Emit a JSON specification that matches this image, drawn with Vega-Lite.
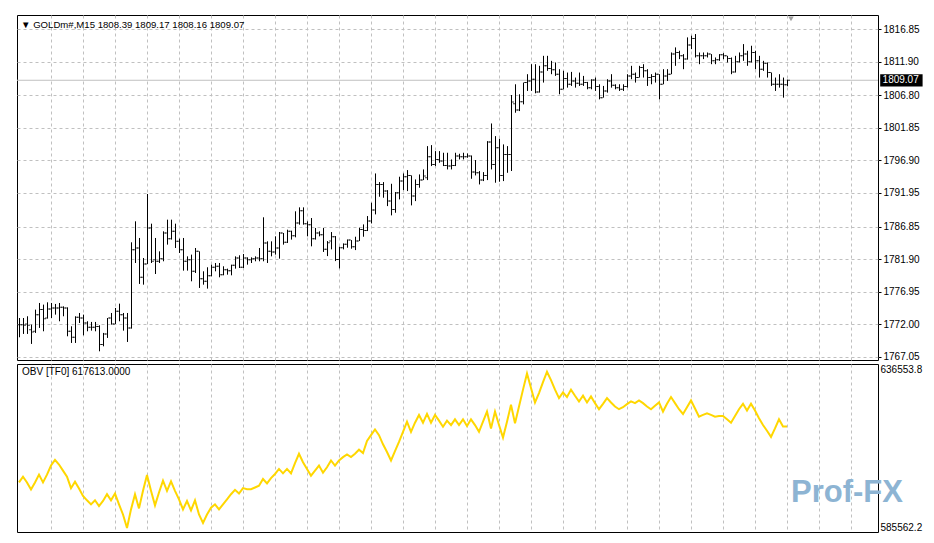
{
  "$schema": "https://vega.github.io/schema/vega-lite/v6.json",
  "background": "white",
  "padding": {"left": 14, "top": 14, "right": 0, "bottom": 0},
  "spacing": 0,
  "config": {
    "view": {"stroke": "black", "strokeWidth": 1},
    "font": "Liberation Sans",
    "axis": {"labelFont": "Liberation Sans", "labelFontSize": 10, "labelColor": "black", "title": null, "tickCount": 100, "labelOverlap": false},
    "title": {"font": "Liberation Sans", "fontSize": 10, "fontWeight": "normal", "color": "black", "anchor": "start", "frame": "group"}
  },
  "datasets": {
    "bars": [
      {"i":0,"o":1771.96,"h":1772.97,"l":1770.04,"c":1771.96,"v":600611},
      {"i":1,"o":1771.96,"h":1772.97,"l":1770.55,"c":1771.86,"v":602352},
      {"i":2,"o":1772.06,"h":1773.23,"l":1770.55,"c":1771.86,"v":600611},
      {"i":3,"o":1771.2,"h":1771.96,"l":1769.03,"c":1770.85,"v":598461},
      {"i":4,"o":1770.95,"h":1774.24,"l":1770.7,"c":1773.48,"v":600611},
      {"i":5,"o":1773.48,"h":1775.25,"l":1771.46,"c":1774.24,"v":602966},
      {"i":6,"o":1774.24,"h":1775.0,"l":1770.95,"c":1772.87,"v":600611},
      {"i":7,"o":1772.97,"h":1775.35,"l":1772.87,"c":1774.34,"v":602966},
      {"i":8,"o":1774.34,"h":1775.25,"l":1772.97,"c":1774.49,"v":605731},
      {"i":9,"o":1774.49,"h":1775.1,"l":1773.48,"c":1774.49,"v":607472},
      {"i":10,"o":1774.49,"h":1775.25,"l":1772.47,"c":1774.59,"v":606038},
      {"i":11,"o":1774.59,"h":1774.74,"l":1773.23,"c":1774.49,"v":604195},
      {"i":12,"o":1774.49,"h":1774.59,"l":1770.19,"c":1770.95,"v":602352},
      {"i":13,"o":1770.95,"h":1771.71,"l":1769.18,"c":1770.04,"v":598870},
      {"i":14,"o":1770.04,"h":1773.23,"l":1769.18,"c":1773.07,"v":600816},
      {"i":15,"o":1773.07,"h":1773.73,"l":1772.21,"c":1772.97,"v":598768},
      {"i":16,"o":1772.97,"h":1773.48,"l":1770.34,"c":1772.21,"v":596515},
      {"i":17,"o":1772.21,"h":1772.47,"l":1770.95,"c":1771.56,"v":595184},
      {"i":18,"o":1771.56,"h":1772.37,"l":1771.05,"c":1771.56,"v":593955},
      {"i":19,"o":1771.56,"h":1772.37,"l":1770.95,"c":1771.66,"v":595184},
      {"i":20,"o":1771.66,"h":1771.86,"l":1767.91,"c":1768.93,"v":593443},
      {"i":21,"o":1768.93,"h":1770.7,"l":1768.67,"c":1770.55,"v":594979},
      {"i":22,"o":1770.55,"h":1772.97,"l":1769.94,"c":1772.97,"v":597027},
      {"i":23,"o":1772.97,"h":1773.73,"l":1771.96,"c":1772.06,"v":595184},
      {"i":24,"o":1772.06,"h":1774.49,"l":1772.06,"c":1773.99,"v":597232},
      {"i":25,"o":1773.99,"h":1775.15,"l":1772.47,"c":1773.48,"v":593955},
      {"i":26,"o":1773.48,"h":1773.73,"l":1771.05,"c":1772.97,"v":590883},
      {"i":27,"o":1772.97,"h":1773.73,"l":1769.33,"c":1771.46,"v":586787},
      {"i":28,"o":1771.46,"h":1784.46,"l":1771.35,"c":1783.35,"v":592419},
      {"i":29,"o":1783.35,"h":1787.65,"l":1781.32,"c":1783.6,"v":597027},
      {"i":30,"o":1783.6,"h":1785.12,"l":1778.14,"c":1779.15,"v":592726},
      {"i":31,"o":1779.15,"h":1782.08,"l":1778.03,"c":1781.17,"v":598051},
      {"i":32,"o":1781.17,"h":1791.8,"l":1781.17,"c":1786.64,"v":602864},
      {"i":33,"o":1786.64,"h":1787.29,"l":1781.32,"c":1781.58,"v":598051},
      {"i":34,"o":1781.83,"h":1785.12,"l":1779.65,"c":1781.58,"v":593648},
      {"i":35,"o":1781.58,"h":1783.09,"l":1781.32,"c":1781.98,"v":597539},
      {"i":36,"o":1781.98,"h":1786.13,"l":1781.58,"c":1785.88,"v":601123},
      {"i":37,"o":1785.88,"h":1787.9,"l":1784.11,"c":1785.02,"v":598051},
      {"i":38,"o":1785.02,"h":1787.9,"l":1784.87,"c":1786.13,"v":600918},
      {"i":39,"o":1786.13,"h":1787.29,"l":1783.6,"c":1784.61,"v":598051},
      {"i":40,"o":1784.61,"h":1785.02,"l":1782.84,"c":1783.35,"v":595491},
      {"i":41,"o":1783.35,"h":1785.12,"l":1780.16,"c":1781.58,"v":592419},
      {"i":42,"o":1781.58,"h":1782.33,"l":1780.16,"c":1781.83,"v":594979},
      {"i":43,"o":1781.83,"h":1782.59,"l":1778.54,"c":1780.06,"v":592112},
      {"i":44,"o":1780.06,"h":1783.6,"l":1779.8,"c":1783.09,"v":595184},
      {"i":45,"o":1783.09,"h":1783.09,"l":1777.53,"c":1778.94,"v":590883},
      {"i":46,"o":1778.94,"h":1780.06,"l":1778.03,"c":1778.54,"v":588323},
      {"i":47,"o":1778.54,"h":1780.67,"l":1777.43,"c":1779.4,"v":590883},
      {"i":48,"o":1779.4,"h":1781.07,"l":1779.3,"c":1780.67,"v":592931},
      {"i":49,"o":1780.67,"h":1781.32,"l":1780.06,"c":1780.82,"v":593955},
      {"i":50,"o":1780.82,"h":1781.32,"l":1779.15,"c":1779.55,"v":592419},
      {"i":51,"o":1779.55,"h":1780.82,"l":1779.45,"c":1780.31,"v":593955},
      {"i":52,"o":1780.31,"h":1780.46,"l":1779.55,"c":1780.16,"v":595491},
      {"i":53,"o":1780.16,"h":1781.07,"l":1779.45,"c":1780.97,"v":597027},
      {"i":54,"o":1780.97,"h":1782.33,"l":1780.46,"c":1782.08,"v":598358},
      {"i":55,"o":1782.08,"h":1782.49,"l":1780.56,"c":1780.67,"v":597232},
      {"i":56,"o":1780.67,"h":1782.69,"l":1780.56,"c":1782.08,"v":598870},
      {"i":57,"o":1782.08,"h":1782.18,"l":1781.07,"c":1781.83,"v":598563},
      {"i":58,"o":1781.83,"h":1782.18,"l":1781.32,"c":1781.98,"v":598563},
      {"i":59,"o":1781.98,"h":1782.33,"l":1781.58,"c":1782.08,"v":599075},
      {"i":60,"o":1782.08,"h":1783.6,"l":1781.58,"c":1781.98,"v":599587},
      {"i":61,"o":1781.98,"h":1788.26,"l":1781.58,"c":1784.36,"v":601635},
      {"i":62,"o":1784.36,"h":1784.61,"l":1781.32,"c":1783.09,"v":600304},
      {"i":63,"o":1783.09,"h":1784.61,"l":1782.33,"c":1782.99,"v":601942},
      {"i":64,"o":1782.99,"h":1785.37,"l":1782.59,"c":1783.6,"v":603171},
      {"i":65,"o":1783.6,"h":1786.03,"l":1781.98,"c":1785.88,"v":604707},
      {"i":66,"o":1785.88,"h":1785.88,"l":1784.11,"c":1784.46,"v":603376},
      {"i":67,"o":1784.46,"h":1786.38,"l":1784.36,"c":1786.13,"v":604707},
      {"i":68,"o":1786.13,"h":1786.23,"l":1784.87,"c":1785.47,"v":603376},
      {"i":69,"o":1785.47,"h":1789.17,"l":1785.22,"c":1787.4,"v":606448},
      {"i":70,"o":1787.4,"h":1789.77,"l":1787.14,"c":1789.27,"v":609315},
      {"i":71,"o":1789.27,"h":1789.77,"l":1787.14,"c":1787.29,"v":606755},
      {"i":72,"o":1787.29,"h":1787.65,"l":1785.37,"c":1787.14,"v":604707},
      {"i":73,"o":1787.14,"h":1788.15,"l":1783.85,"c":1785.02,"v":602659},
      {"i":74,"o":1785.02,"h":1786.64,"l":1784.87,"c":1785.88,"v":604195},
      {"i":75,"o":1785.88,"h":1786.13,"l":1785.37,"c":1785.62,"v":605731},
      {"i":76,"o":1785.62,"h":1786.64,"l":1783.0,"c":1783.39,"v":603581},
      {"i":77,"o":1783.39,"h":1784.65,"l":1782.37,"c":1784.4,"v":605219},
      {"i":78,"o":1784.65,"h":1786.02,"l":1783.39,"c":1785.31,"v":607267},
      {"i":79,"o":1785.31,"h":1785.41,"l":1781.61,"c":1781.87,"v":605731},
      {"i":80,"o":1781.87,"h":1783.79,"l":1780.5,"c":1783.64,"v":607267},
      {"i":81,"o":1783.64,"h":1784.3,"l":1783.39,"c":1784.15,"v":608291},
      {"i":82,"o":1784.15,"h":1784.9,"l":1783.64,"c":1784.8,"v":609110},
      {"i":83,"o":1784.8,"h":1784.8,"l":1783.49,"c":1783.79,"v":608291},
      {"i":84,"o":1783.79,"h":1785.31,"l":1783.28,"c":1784.65,"v":609315},
      {"i":85,"o":1784.65,"h":1786.68,"l":1784.65,"c":1786.42,"v":610544},
      {"i":86,"o":1786.42,"h":1787.18,"l":1785.31,"c":1786.27,"v":609520},
      {"i":87,"o":1786.27,"h":1788.45,"l":1786.17,"c":1787.69,"v":613206},
      {"i":88,"o":1787.69,"h":1790.47,"l":1787.33,"c":1789.36,"v":614947},
      {"i":89,"o":1789.36,"h":1794.92,"l":1788.7,"c":1793.25,"v":616688},
      {"i":90,"o":1793.25,"h":1793.61,"l":1791.38,"c":1793.25,"v":614947},
      {"i":91,"o":1793.25,"h":1793.61,"l":1791.23,"c":1792.24,"v":612182},
      {"i":92,"o":1792.24,"h":1792.39,"l":1789.96,"c":1790.72,"v":609827},
      {"i":93,"o":1790.72,"h":1793.35,"l":1788.55,"c":1789.46,"v":607267},
      {"i":94,"o":1789.46,"h":1792.09,"l":1788.95,"c":1791.99,"v":610134},
      {"i":95,"o":1791.99,"h":1794.42,"l":1790.98,"c":1793.76,"v":612899},
      {"i":96,"o":1793.76,"h":1794.92,"l":1792.39,"c":1794.42,"v":615971},
      {"i":97,"o":1794.42,"h":1795.43,"l":1792.24,"c":1794.62,"v":619043},
      {"i":98,"o":1794.62,"h":1794.62,"l":1790.07,"c":1791.48,"v":615971},
      {"i":99,"o":1791.48,"h":1794.01,"l":1790.72,"c":1793.25,"v":618736},
      {"i":100,"o":1793.25,"h":1794.77,"l":1792.75,"c":1793.91,"v":621091},
      {"i":101,"o":1793.91,"h":1795.53,"l":1793.91,"c":1794.52,"v":618736},
      {"i":102,"o":1794.27,"h":1799.07,"l":1793.91,"c":1797.45,"v":621398},
      {"i":103,"o":1797.45,"h":1799.22,"l":1796.04,"c":1796.29,"v":618736},
      {"i":104,"o":1796.29,"h":1798.31,"l":1796.04,"c":1797.05,"v":621091},
      {"i":105,"o":1797.05,"h":1798.31,"l":1796.54,"c":1796.8,"v":619350},
      {"i":106,"o":1796.8,"h":1798.06,"l":1796.04,"c":1796.14,"v":617507},
      {"i":107,"o":1796.14,"h":1798.06,"l":1795.53,"c":1796.04,"v":619350},
      {"i":108,"o":1796.04,"h":1797.05,"l":1795.53,"c":1796.14,"v":618019},
      {"i":109,"o":1796.14,"h":1798.06,"l":1796.04,"c":1797.55,"v":619760},
      {"i":110,"o":1797.55,"h":1797.91,"l":1797.05,"c":1797.45,"v":618019},
      {"i":111,"o":1797.45,"h":1798.06,"l":1797.05,"c":1797.45,"v":619760},
      {"i":112,"o":1797.45,"h":1797.96,"l":1797.3,"c":1797.55,"v":617712},
      {"i":113,"o":1797.55,"h":1797.65,"l":1794.11,"c":1795.12,"v":619760},
      {"i":114,"o":1795.12,"h":1796.95,"l":1794.62,"c":1795.02,"v":618019},
      {"i":115,"o":1795.02,"h":1795.28,"l":1793.25,"c":1793.91,"v":615971},
      {"i":116,"o":1793.91,"h":1795.12,"l":1793.76,"c":1794.62,"v":619043},
      {"i":117,"o":1794.62,"h":1799.83,"l":1793.91,"c":1799.68,"v":622115},
      {"i":118,"o":1799.68,"h":1802.51,"l":1795.53,"c":1796.29,"v":616995},
      {"i":119,"o":1796.29,"h":1800.59,"l":1793.51,"c":1798.82,"v":622115},
      {"i":120,"o":1798.82,"h":1800.18,"l":1793.66,"c":1794.62,"v":618019},
      {"i":121,"o":1794.62,"h":1799.33,"l":1793.76,"c":1797.81,"v":614230},
      {"i":122,"o":1797.81,"h":1799.07,"l":1795.02,"c":1797.81,"v":619043},
      {"i":123,"o":1797.81,"h":1806.83,"l":1795.29,"c":1805.76,"v":624163},
      {"i":124,"o":1805.51,"h":1808.46,"l":1804.14,"c":1804.55,"v":618531},
      {"i":125,"o":1804.55,"h":1806.94,"l":1804.39,"c":1805.82,"v":623651},
      {"i":126,"o":1805.82,"h":1808.72,"l":1805.41,"c":1808.72,"v":628771},
      {"i":127,"o":1808.72,"h":1809.99,"l":1807.45,"c":1808.97,"v":633686},
      {"i":128,"o":1808.97,"h":1811.51,"l":1807.45,"c":1809.23,"v":629283},
      {"i":129,"o":1809.23,"h":1811.51,"l":1807.09,"c":1807.29,"v":624880},
      {"i":130,"o":1807.29,"h":1811.26,"l":1807.19,"c":1810.34,"v":627747},
      {"i":131,"o":1810.34,"h":1812.78,"l":1808.72,"c":1811.26,"v":631024},
      {"i":132,"o":1811.26,"h":1812.78,"l":1810.5,"c":1810.85,"v":634198},
      {"i":133,"o":1810.85,"h":1812.02,"l":1809.99,"c":1810.65,"v":631638},
      {"i":134,"o":1810.65,"h":1811.77,"l":1809.73,"c":1809.99,"v":628771},
      {"i":135,"o":1809.99,"h":1810.75,"l":1806.94,"c":1807.7,"v":626211},
      {"i":136,"o":1807.7,"h":1810.5,"l":1807.7,"c":1809.33,"v":627952},
      {"i":137,"o":1809.33,"h":1810.24,"l":1807.95,"c":1808.46,"v":626518},
      {"i":138,"o":1808.46,"h":1810.34,"l":1808.21,"c":1808.97,"v":628771},
      {"i":139,"o":1808.97,"h":1809.48,"l":1807.95,"c":1808.62,"v":626928},
      {"i":140,"o":1808.62,"h":1810.24,"l":1808.21,"c":1808.46,"v":625187},
      {"i":141,"o":1808.46,"h":1809.73,"l":1808.21,"c":1808.72,"v":626928},
      {"i":142,"o":1808.72,"h":1808.82,"l":1807.7,"c":1807.95,"v":624880},
      {"i":143,"o":1807.95,"h":1809.23,"l":1807.7,"c":1809.12,"v":626723},
      {"i":144,"o":1809.12,"h":1809.48,"l":1807.45,"c":1808.11,"v":624675},
      {"i":145,"o":1808.11,"h":1808.46,"l":1806.17,"c":1806.43,"v":622832},
      {"i":146,"o":1806.43,"h":1808.21,"l":1806.43,"c":1807.45,"v":624470},
      {"i":147,"o":1807.45,"h":1809.23,"l":1807.19,"c":1808.97,"v":626211},
      {"i":148,"o":1808.97,"h":1809.99,"l":1807.95,"c":1808.31,"v":624880},
      {"i":149,"o":1808.31,"h":1808.46,"l":1807.7,"c":1807.95,"v":623651},
      {"i":150,"o":1807.95,"h":1808.46,"l":1807.45,"c":1807.7,"v":622832},
      {"i":151,"o":1807.7,"h":1808.46,"l":1807.45,"c":1808.11,"v":623446},
      {"i":152,"o":1808.11,"h":1809.99,"l":1807.95,"c":1809.73,"v":624368},
      {"i":153,"o":1809.73,"h":1811.26,"l":1809.23,"c":1809.99,"v":625187},
      {"i":154,"o":1809.99,"h":1810.24,"l":1808.72,"c":1809.48,"v":624675},
      {"i":155,"o":1809.48,"h":1811.26,"l":1809.48,"c":1811.01,"v":625494},
      {"i":156,"o":1811.01,"h":1811.51,"l":1809.48,"c":1810.5,"v":624675},
      {"i":157,"o":1810.5,"h":1810.75,"l":1808.21,"c":1809.48,"v":623651},
      {"i":158,"o":1809.48,"h":1809.99,"l":1808.46,"c":1809.63,"v":622832},
      {"i":159,"o":1809.63,"h":1810.24,"l":1808.72,"c":1809.99,"v":623856},
      {"i":160,"o":1809.99,"h":1809.99,"l":1806.17,"c":1808.46,"v":624880},
      {"i":161,"o":1808.46,"h":1810.75,"l":1808.46,"c":1809.73,"v":622115},
      {"i":162,"o":1809.73,"h":1810.75,"l":1808.97,"c":1809.99,"v":624470},
      {"i":163,"o":1809.99,"h":1813.29,"l":1809.99,"c":1813.04,"v":626518},
      {"i":164,"o":1813.04,"h":1814.06,"l":1811.26,"c":1813.29,"v":624675},
      {"i":165,"o":1813.29,"h":1813.55,"l":1812.28,"c":1812.78,"v":622832},
      {"i":166,"o":1812.78,"h":1813.04,"l":1810.75,"c":1812.28,"v":621398},
      {"i":167,"o":1812.28,"h":1815.58,"l":1812.2,"c":1814.41,"v":623446},
      {"i":168,"o":1814.41,"h":1815.84,"l":1813.8,"c":1815.43,"v":625494},
      {"i":169,"o":1815.43,"h":1816.09,"l":1812.53,"c":1812.78,"v":623037},
      {"i":170,"o":1812.78,"h":1813.29,"l":1811.51,"c":1812.78,"v":620579},
      {"i":171,"o":1812.78,"h":1813.29,"l":1812.28,"c":1812.78,"v":621091},
      {"i":172,"o":1812.78,"h":1813.29,"l":1812.53,"c":1813.04,"v":621603},
      {"i":173,"o":1813.04,"h":1813.04,"l":1811.51,"c":1812.02,"v":621091},
      {"i":174,"o":1812.02,"h":1812.53,"l":1811.51,"c":1812.17,"v":620579},
      {"i":175,"o":1812.17,"h":1813.04,"l":1812.02,"c":1812.94,"v":620784},
      {"i":176,"o":1812.94,"h":1813.19,"l":1812.28,"c":1812.78,"v":620784},
      {"i":177,"o":1812.78,"h":1812.78,"l":1811.77,"c":1812.38,"v":619760},
      {"i":178,"o":1812.38,"h":1812.53,"l":1809.99,"c":1810.34,"v":618736},
      {"i":179,"o":1810.34,"h":1812.78,"l":1810.24,"c":1811.87,"v":620784},
      {"i":180,"o":1811.87,"h":1813.29,"l":1811.77,"c":1812.78,"v":622832},
      {"i":181,"o":1812.78,"h":1814.56,"l":1812.02,"c":1813.04,"v":624470},
      {"i":182,"o":1813.04,"h":1813.55,"l":1811.26,"c":1811.87,"v":622422},
      {"i":183,"o":1811.87,"h":1814.31,"l":1811.77,"c":1813.29,"v":624470},
      {"i":184,"o":1813.29,"h":1813.55,"l":1810.75,"c":1812.02,"v":622422},
      {"i":185,"o":1812.02,"h":1812.78,"l":1809.48,"c":1810.75,"v":620067},
      {"i":186,"o":1810.75,"h":1812.02,"l":1810.5,"c":1811.67,"v":618019},
      {"i":187,"o":1811.67,"h":1811.77,"l":1809.48,"c":1810.24,"v":616278},
      {"i":188,"o":1810.24,"h":1810.24,"l":1808.21,"c":1808.46,"v":614435},
      {"i":189,"o":1808.46,"h":1809.48,"l":1807.45,"c":1808.46,"v":616995},
      {"i":190,"o":1808.46,"h":1809.99,"l":1807.95,"c":1808.46,"v":619760},
      {"i":191,"o":1808.46,"h":1809.48,"l":1806.43,"c":1808.39,"v":617613},
      {"i":192,"o":1808.39,"h":1809.17,"l":1808.16,"c":1809.07,"v":617613}
    ],
    "marks": [
      {"bid": 1809.07, "lbl": "1809.07", "bx": 215.3, "bx2": 225.9, "btop": 1810.0, "bbot": 1808.14, "tx": 215.9, "sx": 193, "sy": 1818.4}
    ],
    "logo": [
      {"t": "Prof-FX", "x": 193.0, "y": 594600}
    ]
  },
  "vconcat": [
    {
      "width": 861,
      "height": 345,
      "title": {"text": "▼ GOLDm#,M15  1808.39 1809.17 1808.16 1809.07", "offset": -15, "dx": 4, "fontSize": 9.6},
      "layer": [
        {
          "data": {"name": "marks"},
          "mark": {"type": "rule", "color": "#c0c0c0", "strokeWidth": 1},
          "encoding": {"y": {"field": "bid", "type": "quantitative"}}
        },
        {
          "data": {"name": "bars"},
          "mark": {"type": "rule", "color": "black", "strokeWidth": 1, "xOffset": 0.5},
          "encoding": {
            "x": {"field": "i", "type": "quantitative",
                  "scale": {"domain": [-0.5, 214.75], "nice": false, "zero": false},
                  "axis": {"values": [8,16,24,32,40,48,56,64,72,80,88,96,104,112,120,128,136,144,152,160,168,176,184,192,200,208],
                           "grid": true, "gridColor": "#c0c0c0", "gridDash": [3, 3], "labels": false, "ticks": false, "domain": false}},
            "y": {"field": "l", "type": "quantitative",
                  "scale": {"domain": [1766.59, 1818.98], "nice": false, "zero": false},
                  "axis": {"orient": "right",
                           "values": [1767.05, 1772.0, 1776.95, 1781.9, 1786.85, 1791.95, 1796.9, 1801.85, 1806.8, 1811.9, 1816.85],
                           "format": ".2f", "grid": true, "gridColor": "#c0c0c0", "gridDash": [3, 3],
                           "domain": false, "ticks": true, "tickSize": 3, "tickColor": "black", "labelPadding": 2}},
            "y2": {"field": "h"}
          }
        },
        {
          "data": {"name": "bars"},
          "mark": {"type": "tick", "orient": "horizontal", "size": 2, "thickness": 1, "xOffset": -1, "color": "black"},
          "encoding": {
            "x": {"field": "i", "type": "quantitative"},
            "y": {"field": "o", "type": "quantitative"}
          }
        },
        {
          "data": {"name": "bars"},
          "mark": {"type": "tick", "orient": "horizontal", "size": 2, "thickness": 1, "xOffset": 2, "color": "black"},
          "encoding": {
            "x": {"field": "i", "type": "quantitative"},
            "y": {"field": "c", "type": "quantitative"}
          }
        },
        {
          "data": {"name": "marks"},
          "mark": {"type": "rect", "color": "black", "clip": false},
          "encoding": {
            "x": {"field": "bx", "type": "quantitative"},
            "x2": {"field": "bx2"},
            "y": {"field": "btop", "type": "quantitative"},
            "y2": {"field": "bbot"}
          }
        },
        {
          "data": {"name": "marks"},
          "mark": {"type": "text", "color": "white", "align": "left", "baseline": "middle", "fontSize": 10, "font": "Liberation Sans", "clip": false},
          "encoding": {
            "x": {"field": "tx", "type": "quantitative"},
            "y": {"field": "bid", "type": "quantitative"},
            "text": {"field": "lbl"}
          }
        },
        {
          "data": {"name": "marks"},
          "mark": {"type": "point", "shape": "triangle-down", "filled": true, "color": "#a0a0a0", "size": 30, "opacity": 1},
          "encoding": {
            "x": {"field": "sx", "type": "quantitative"},
            "y": {"field": "sy", "type": "quantitative"}
          }
        }
      ]
    },
    {
      "width": 861,
      "height": 168,
      "title": {"text": "OBV [TF0]  617613.0000", "offset": -13, "dx": 5},
      "layer": [
        {
          "data": {"name": "logo"},
          "mark": {"type": "text", "font": "Liberation Sans", "fontWeight": "bold", "fontSize": 31, "color": "#8db4d3", "align": "left", "baseline": "alphabetic", "clip": false},
          "encoding": {
            "x": {"field": "x", "type": "quantitative"},
            "y": {"field": "y", "type": "quantitative"},
            "text": {"field": "t"}
          }
        },
        {
          "data": {"name": "bars"},
          "mark": {"type": "line", "color": "#FFD700", "strokeWidth": 2},
          "encoding": {
            "x": {"field": "i", "type": "quantitative",
                  "scale": {"domain": [-0.5, 214.75], "nice": false, "zero": false},
                  "axis": {"values": [8,16,24,32,40,48,56,64,72,80,88,96,104,112,120,128,136,144,152,160,168,176,184,192,200,208],
                           "grid": true, "gridColor": "#c0c0c0", "gridDash": [3, 3], "labels": false, "ticks": false, "domain": false}},
            "y": {"field": "v", "type": "quantitative",
                  "scale": {"domain": [585562.2, 636553.8], "nice": false, "zero": false},
                  "axis": {"orient": "right", "values": [585562.2, 636553.8], "format": ".1f", "grid": false,
                           "domain": false, "ticks": false, "labelFlush": true, "labelPadding": 2}}
          }
        }
      ]
    }
  ]
}
